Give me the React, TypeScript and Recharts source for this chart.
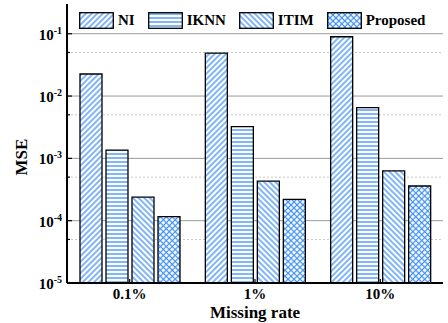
import React from 'react';
import { BarChart, Bar, XAxis, YAxis, CartesianGrid, Legend } from 'recharts';

const rates = ['0.1%', '1%', '10%'];
const niValues = [0.0226, 0.049, 0.0895];
const iknnValues = [0.00136, 0.00324, 0.0065];
const itimValues = [0.000238, 0.00043, 0.00063];
const proposedValues = [0.000116, 0.00022, 0.00036];

const seriesNames = ['NI', 'IKNN', 'ITIM', 'Proposed'];
const majorTicks = [1e-5, 1e-4, 1e-3, 1e-2, 1e-1];
const minorTicks = [5e-5, 5e-4, 5e-3, 5e-2];

const BLUE = '#3d8ef5';
const FONT = '"Liberation Serif", "Times New Roman", serif';

const data = rates.map((rate, i) => ({
  rate,
  NI: niValues[i],
  IKNN: iknnValues[i],
  ITIM: itimValues[i],
  Proposed: proposedValues[i],
}));

const patternId = (name: string) => `pat-${name}`;

const isMajor = (v: number) => majorTicks.some((m) => Math.abs(m - v) / m < 1e-6);

// left y axis: inward ticks + 10^n labels
const LeftTick = (props: any) => {
  const { x, y, payload } = props;
  const major = isMajor(payload.value);
  const exp = Math.round(Math.log10(payload.value));
  return (
    <g>
      <line x1={x} y1={y} x2={x + (major ? 5 : 3)} y2={y} stroke="#000" strokeWidth={1.2} />
      {major && (
        <text x={x - 5} y={y + 6} textAnchor="end" fontFamily={FONT} fontWeight="bold" fontSize={15} fill="#000">
          <tspan>10</tspan>
          <tspan dy={-6} fontSize={10}>{exp}</tspan>
        </text>
      )}
    </g>
  );
};

const RightTick = (props: any) => {
  const { x, y, payload } = props;
  const major = isMajor(payload.value);
  return <line x1={x} y1={y} x2={x - (major ? 5 : 3)} y2={y} stroke="#000" strokeWidth={1.2} />;
};

const BottomTick = (props: any) => {
  const { x, y, payload } = props;
  return (
    <g>
      <line x1={x} y1={y} x2={x} y2={y - 4} stroke="#000" strokeWidth={1.2} />
      <text x={x} y={y + 16} textAnchor="middle" fontFamily={FONT} fontWeight="bold" fontSize={15} fill="#000">
        {payload.value}
      </text>
    </g>
  );
};

const TopTick = (props: any) => {
  const { x, y } = props;
  return <line x1={x} y1={y} x2={x} y2={y + 4} stroke="#000" strokeWidth={1.2} />;
};

const renderLegend = () => (
  <div style={{ display: 'flex', alignItems: 'center', height: 17, fontFamily: FONT, fontWeight: 'bold', fontSize: 15 }}>
    {seriesNames.map((name) => (
      <div key={name} style={{ display: 'flex', alignItems: 'center', marginRight: 13 }}>
        <svg width={35} height={17} style={{ display: 'block' }}>
          <rect x={0.7} y={0.7} width={33.6} height={15.6} fill={`url(#${patternId(name)})`} stroke="#000" strokeWidth={1.3} />
        </svg>
        <span style={{ marginLeft: 4, lineHeight: '17px' }}>{name}</span>
      </div>
    ))}
  </div>
);

export default function App() {
  return (
    <div style={{ position: 'absolute', left: 0, top: 0, width: 448, height: 323, background: '#fff' }}>
      <BarChart
        width={448}
        height={323}
        data={data}
        margin={{ top: 4, right: 5, left: 0, bottom: 0 }}
        barSize={22}
        barGap={4}
      >
        <defs>
          <pattern id={patternId('NI')} patternUnits="userSpaceOnUse" width={4} height={4} patternTransform="rotate(45)">
            <rect width={4} height={4} fill="#fff" />
            <line x1={2} y1={0} x2={2} y2={4} stroke={BLUE} strokeWidth={1.3} />
          </pattern>
          <pattern id={patternId('IKNN')} patternUnits="userSpaceOnUse" width={4} height={4}>
            <rect width={4} height={4} fill="#fff" />
            <line x1={0} y1={2} x2={4} y2={2} stroke={BLUE} strokeWidth={1.3} />
          </pattern>
          <pattern id={patternId('ITIM')} patternUnits="userSpaceOnUse" width={4} height={4} patternTransform="rotate(-45)">
            <rect width={4} height={4} fill="#fff" />
            <line x1={2} y1={0} x2={2} y2={4} stroke={BLUE} strokeWidth={1.3} />
          </pattern>
          <pattern id={patternId('Proposed')} patternUnits="userSpaceOnUse" width={4.2} height={4.2} patternTransform="rotate(45)">
            <rect width={4.2} height={4.2} fill="#fff" />
            <line x1={2.1} y1={0} x2={2.1} y2={4.2} stroke={BLUE} strokeWidth={1.2} />
            <line x1={0} y1={2.1} x2={4.2} y2={2.1} stroke={BLUE} strokeWidth={1.2} />
          </pattern>
        </defs>
        <CartesianGrid vertical={false} horizontalValues={[1e-4, 1e-3, 1e-2, 1e-1]} stroke="#9a9a9a" strokeWidth={1} />
        <CartesianGrid vertical={false} horizontalValues={minorTicks} stroke="#c8c8c8" strokeDasharray="2 2" strokeWidth={1} />
        <XAxis
          dataKey="rate"
          height={40}
          tickLine={false}
          tickSize={0}
          tickMargin={0}
          tick={<BottomTick />}
          axisLine={{ stroke: '#000', strokeWidth: 2 }}
          label={{
            content: () => (
              <text x={255} y={318} textAnchor="middle" fontFamily={FONT} fontWeight="bold" fontSize={17} fill="#000">
                Missing rate
              </text>
            ),
          }}
        />
        <XAxis
          xAxisId="top"
          orientation="top"
          dataKey="rate"
          height={0}
          tickLine={false}
          tickSize={0}
          tickMargin={0}
          tick={<TopTick />}
          axisLine={{ stroke: '#222', strokeWidth: 1.5 }}
        />
        <YAxis
          scale="log"
          type="number"
          domain={[1e-5, 0.3]}
          allowDataOverflow
          ticks={[...majorTicks, ...minorTicks].sort((a, b) => a - b)}
          width={67}
          tickLine={false}
          tickSize={0}
          tickMargin={0}
          tick={<LeftTick />}
          interval={0}
          axisLine={{ stroke: '#000', strokeWidth: 2 }}
          label={{
            content: () => (
              <text x={27} y={157} transform="rotate(-90 27 157)" textAnchor="middle" fontFamily={FONT} fontWeight="bold" fontSize={17} fill="#000">
                MSE
              </text>
            ),
          }}
        />
        <YAxis
          yAxisId="right"
          orientation="right"
          scale="log"
          type="number"
          domain={[1e-5, 0.3]}
          allowDataOverflow
          ticks={[...majorTicks, ...minorTicks].sort((a, b) => a - b)}
          width={0}
          tickLine={false}
          tickSize={0}
          tickMargin={0}
          tick={<RightTick />}
          interval={0}
          axisLine={{ stroke: '#222', strokeWidth: 1.5 }}
        />
        <Legend
          content={renderLegend}
          verticalAlign="middle"
          align="center"
          layout="horizontal"
          wrapperStyle={{ top: 12, left: 79, width: 380 }}
        />
        {seriesNames.map((name) => (
          <Bar
            key={name}
            dataKey={name}
            fill={`url(#${patternId(name)})`}
            stroke="#000"
            strokeWidth={1.3}
            isAnimationActive={false}
          />
        ))}
      </BarChart>
    </div>
  );
}
